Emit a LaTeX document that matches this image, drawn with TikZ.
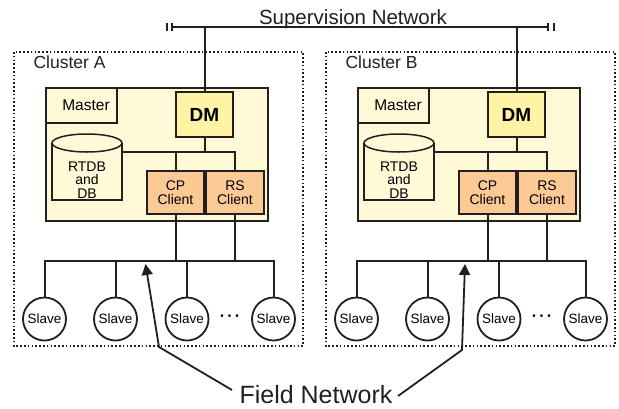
\documentclass[tikz,border=0pt]{standalone}
\usepackage{fontspec}
\setmainfont{Liberation Sans}
\usetikzlibrary{arrows.meta}
\definecolor{mainfill}{HTML}{FFF9D8}
\definecolor{dmfill}{HTML}{FFF4A6}
\definecolor{clientfill}{HTML}{FBC994}
\definecolor{ink}{HTML}{231F20}
\begin{document}
\begin{tikzpicture}[x=1pt,y=-1pt,
  conn/.style={draw=ink, line width=2pt},
  box/.style={draw=ink, line width=1.8pt, inner sep=0pt},
  clusterbox/.style={draw=ink, line width=1.6pt, dash pattern=on 1.6pt off 2.2pt},
  slave/.style={circle, draw=ink, line width=1.8pt, fill=white, minimum size=43pt, inner sep=0pt, font=\fontsize{13.5}{14}\selectfont},
  client/.style={box, fill=clientfill, minimum height=43pt, align=center, font=\fontsize{14}{14}\selectfont},
  arrowline/.style={draw=ink, line width=1.8pt, -{Triangle[length=11pt,width=11pt]}}]
\useasboundingbox (0,0) rectangle (619,408);
\node[font=\fontsize{20.5}{24}\selectfont, anchor=base, text=ink] (sup) at (353,24) {Supervision Network};
\coordinate (supL) at (172,27);
\coordinate (supR) at (548,27);
\draw[conn] (supL) -- (supR);
\draw[conn] (supL) ++(0,-4) -- ++(0,8);
\draw[conn] (supL) ++(-5,-4) -- ++(0,8);
\draw[conn] (supR) ++(0,-4) -- ++(0,8);
\draw[conn] (supR) ++(6,-4) -- ++(0,8);
\foreach \c/\dx in {A/0,B/312}{
\begin{scope}[xshift=\dx pt]
  \draw[clusterbox] (14,52) rectangle (303,346);
  \node[font=\fontsize{17.5}{20}\selectfont, anchor=base west, text=ink] (\c-lab) at (30,68) {Cluster \c};
  \node[box, fill=mainfill, minimum width=222pt, minimum height=133pt] (\c-main) at (157,154.5) {};
  \node[box, fill=mainfill, minimum width=71pt, minimum height=35pt, font=\fontsize{15.5}{16}\selectfont] (\c-master) at (81.5,105.5) {\hspace*{9pt}Master};
  \node[box, fill=dmfill, minimum width=57pt, minimum height=45pt, font=\bfseries\fontsize{19}{20}\selectfont] (\c-dm) at (204.5,114.5) {DM};
  \coordinate (\c-top) at (204.5,27);
  \draw[conn] (\c-top) -- (\c-dm.north);
  % cylinder
  \path[fill=mainfill] (52,143) rectangle (122,200);
  \draw[draw=ink, line width=1.5pt] (52,143) -- (52,200) -- (122,200) -- (122,143);
  \draw[draw=ink, line width=1.5pt, fill=mainfill] (87,143) ellipse[x radius=35pt, y radius=9pt];
  \node[align=center, font=\fontsize{14}{13.5}\selectfont] (\c-db) at (87,180) {RTDB\\and\\DB};
  \coordinate (\c-dbR) at (122,152);
  \node[client, minimum width=57pt] (\c-cp) at (175.5,192.5) {CP\\Client};
  \node[client, minimum width=58pt] (\c-rs) at (235,192.5) {RS\\Client};
  \coordinate (\c-br) at (204.5,152);
  \draw[conn] (\c-dm.south) -- (\c-br);
  \draw[conn] (\c-dbR) -| (\c-rs.north);
  \draw[conn] (\c-cp.north) -- (\c-cp.north |- \c-br);
  % field bus
  \coordinate (\c-bus) at (160,261);
  \node[slave] (\c-s1) at (44.5,319) {Slave};
  \node[slave] (\c-s2) at (115.5,319) {Slave};
  \node[slave] (\c-s3) at (187,319) {Slave};
  \node[slave] (\c-s4) at (273.5,319) {Slave};
  \node[font=\bfseries\fontsize{16}{16}\selectfont] (\c-dots) at (230,318) {·\kern2.2pt·\kern2.2pt·};
  \draw[conn] (\c-s1.north) |- (\c-s4.north |- \c-bus) -- (\c-s4.north);
  \draw[conn] (\c-s2.north) -- (\c-s2.north |- \c-bus);
  \draw[conn] (\c-s3.north) -- (\c-s3.north |- \c-bus);
  \draw[conn] (\c-cp.south) -- (\c-cp.south |- \c-bus);
  \draw[conn] (\c-rs.south) -- (\c-rs.south |- \c-bus);
\end{scope}
}
\node[font=\fontsize{25}{28}\selectfont, anchor=base, text=ink] (fn) at (316,403) {Field Network};
\coordinate (fnL) at (232,390);
\coordinate (fnR) at (398,396);
\coordinate (bendL) at (159,347);
\coordinate (bendR) at (462,350);
\coordinate (tipL) at (145.5,264);
\coordinate (tipR) at (465,264);
\draw[arrowline] (fnL) -- (bendL) -- (tipL);
\draw[arrowline] (fnR) -- (bendR) -- (tipR);
\end{tikzpicture}
\end{document}
